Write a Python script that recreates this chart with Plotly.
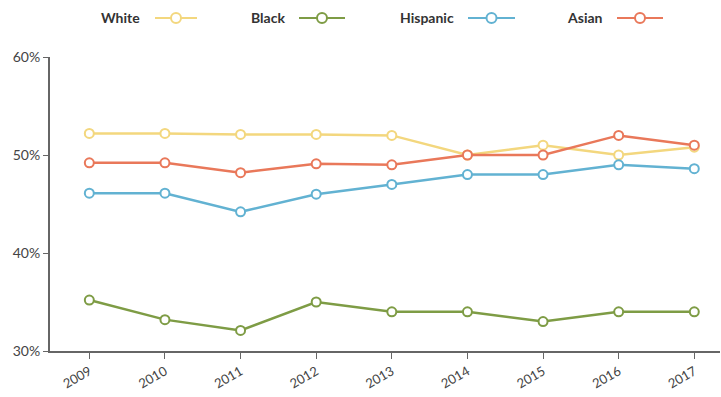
import plotly.graph_objects as go

# data
years = [2009, 2010, 2011, 2012, 2013, 2014, 2015, 2016, 2017]
white = [52.2, 52.2, 52.1, 52.1, 52.0, 50.0, 51.0, 50.0, 50.8]
black = [35.2, 33.2, 32.1, 35.0, 34.0, 34.0, 33.0, 34.0, 34.0]
hispanic = [46.1, 46.1, 44.2, 46.0, 47.0, 48.0, 48.0, 49.0, 48.6]
asian = [49.2, 49.2, 48.2, 49.1, 49.0, 50.0, 50.0, 52.0, 51.0]
y_ticks = [30, 40, 50, 60]
y_labels = ["30%", "40%", "50%", "60%"]

names = ["White", "Black", "Hispanic", "Asian"]
colors = ["#F3D77E", "#7E9C45", "#62B2D2", "#E9785A"]
series = [white, black, hispanic, asian]

FONT = "Lato, 'Open Sans', sans-serif"

# plot area in pixels (used to place the hand-made legend)
L, R, T, B = 50, 1, 57, 46
PW, PH = 721 - L - R, 397 - T - B


def px(x):
    return (x - L) / PW


def py(y):
    return (397 - B - y) / PH


fig = go.Figure()
for name, vals, col in zip(names, series, colors):
    fig.add_trace(go.Scatter(
        x=years, y=vals, name=name, mode="lines+markers",
        line=dict(color=col, width=2.5),
        marker=dict(size=9, color="white", line=dict(color=col, width=2)),
        showlegend=False,
    ))

# legend drawn by hand: label first, then the line/marker sample
leg_text_x = [120, 268, 427, 585]
leg_line = [(155, 197), (299, 345), (468, 515), (617, 663)]
ym = py(18)
for name, col, tx, (x0, x1) in zip(names, colors, leg_text_x, leg_line):
    fig.add_annotation(
        x=px(tx), y=ym, xref="paper", yref="paper",
        text="<b>" + name + "</b>", showarrow=False,
        font=dict(family=FONT, size=14, color="#333"),
        xanchor="center", yanchor="middle",
    )
    fig.add_shape(type="line", xref="paper", yref="paper",
                  x0=px(x0), x1=px(x1), y0=ym, y1=ym,
                  line=dict(color=col, width=2))
    cx = (x0 + x1) / 2
    fig.add_shape(type="circle", xref="paper", yref="paper",
                  x0=px(cx - 5), x1=px(cx + 5),
                  y0=ym - 5 / PH, y1=ym + 5 / PH,
                  fillcolor="white", line=dict(color=col, width=2))

fig.update_layout(
    width=721, height=397,
    margin=dict(l=L, r=R, t=T, b=B),
    paper_bgcolor="white", plot_bgcolor="white",
    font=dict(family=FONT, size=12, color="#444"),
    xaxis=dict(
        range=[2008.48, 2017.34], tickvals=years,
        tickangle=-30, showgrid=False, zeroline=False, automargin=False,
        showline=True, linecolor="#666", linewidth=2,
        ticks="outside", ticklen=6, tickcolor="#666", tickwidth=1,
        tickfont=dict(size=13, color="#444"),
    ),
    yaxis=dict(
        range=[30, 60], tickvals=y_ticks, ticktext=y_labels,
        showgrid=False, zeroline=False, automargin=False,
        showline=True, linecolor="#666", linewidth=2,
        ticks="outside", ticklen=5, tickcolor="#666", tickwidth=1,
        tickfont=dict(size=14, color="#444"),
    ),
)

# the page body has a default 8px margin; drop it so the figure fills the window
fig.write_html("out.html", config={"displayModeBar": False},
               post_script="document.body.style.margin='0';")
